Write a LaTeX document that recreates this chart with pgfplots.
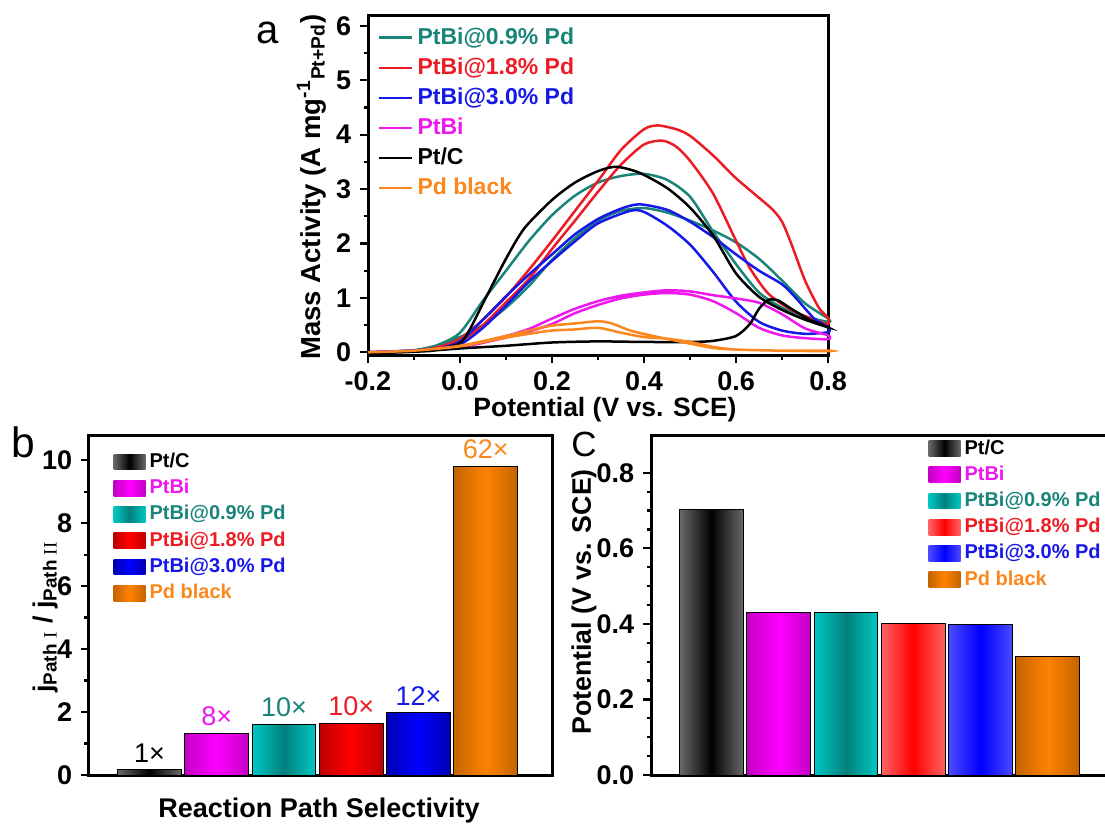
\documentclass[border=0pt]{standalone}
\usepackage{pgfplots}
\pgfplotsset{compat=1.18}
\usepackage{fontspec}
\setmainfont{Liberation Sans}
\newfontfamily\romannum{Liberation Serif}

% line colours (panel a, legend texts, bar labels)
\definecolor{cTeal}{RGB}{24,132,122}
\definecolor{cRed}{RGB}{236,28,36}
\definecolor{cBlue}{RGB}{22,24,230}
\definecolor{cMag}{RGB}{238,24,238}
\definecolor{cOrange}{RGB}{250,136,30}
% bar gradient colours
\definecolor{gGrayE}{RGB}{105,105,105}
\definecolor{gMagE}{RGB}{195,0,195}
\definecolor{gMagC}{RGB}{255,0,255}
\definecolor{gTealE}{RGB}{0,200,195}
\definecolor{gTealC}{RGB}{0,128,125}
\definecolor{gRedE}{RGB}{190,0,0}
\definecolor{gRedEc}{RGB}{255,100,100}
\definecolor{gRedC}{RGB}{255,0,0}
\definecolor{gBlueE}{RGB}{0,0,180}
\definecolor{gBlueEc}{RGB}{75,75,255}
\definecolor{gBlueC}{RGB}{0,0,255}
\definecolor{gOrE}{RGB}{195,100,0}
\definecolor{gOrC}{RGB}{255,130,0}

\newcommand{\tickfont}{\fontsize{10.8}{12}\selectfont\bfseries}
\newcommand{\labfont}{\fontsize{10.6}{12}\selectfont\bfseries}

\begin{document}
\begin{tikzpicture}
\pgfplotsset{
  panel/.style={
    scale only axis,
    axis line style={line width=1.2pt},
    every tick/.style={line width=0.9pt, black},
    tick align=outside,
    major tick length=3.2pt,
    minor tick length=1.8pt,
    tick pos=left,
    tick label style={font=\tickfont},
    /pgf/number format/assume math mode=true,
    clip=false,
  },
  barpanel/.style={
    panel,
    ybar, bar width=0.95, bar shift=0pt,
    xmin=0.1, xmax=7, xtick=\empty,
    legend image code/.code={\path[##1, draw=none] (0pt,-3.1pt) rectangle (12.8pt,3.2pt);},
    legend cell align=left,
    legend style={draw=none, fill=none, font=\fontsize{8}{9}\selectfont\bfseries,
      row sep=0pt, inner sep=0pt, nodes={inner sep=1.6pt}},
  },
}

% ---------------- panel a: mass activity CVs ----------------
\begin{axis}[panel, at={(147.2pt,-142pt)}, anchor=south west,
  width=184pt, height=136pt,
  xmin=-0.2, xmax=0.8, ymin=-0.05, ymax=6.2,
  xtick={-0.2,0,0.2,0.4,0.6,0.8}, ytick={0,1,...,6},
  minor x tick num=1, minor y tick num=1,
  xticklabel style={/pgf/number format/.cd, fixed, fixed zerofill, precision=1},
  legend cell align=left,
  legend image code/.code={\draw[#1, line width=1pt] (0pt,0pt) -- (13.2pt,0pt);},
  legend style={at={(0,1)}, anchor=north west, xshift=3.6pt, yshift=-3pt,
    draw=none, fill=none, font=\fontsize{9.2}{10}\selectfont\bfseries,
    row sep=0.25pt, inner sep=0pt, nodes={inner sep=1.8pt}},
  every axis plot/.append style={line width=1pt, smooth, tension=0.45},
]
\addplot[cTeal] coordinates {
 (-0.2,0.0) (-0.15,0.01) (-0.1,0.04) (-0.05,0.13) (0.0,0.36) (0.05,0.95) (0.1,1.5)
 (0.15,2.05) (0.2,2.52) (0.25,2.88) (0.3,3.12) (0.35,3.24) (0.4,3.28) (0.45,3.17)
 (0.5,2.86) (0.55,2.22) (0.6,1.62) (0.65,1.1) (0.7,0.82) (0.75,0.66) (0.8,0.56)
 (0.8,0.62) (0.75,0.9) (0.7,1.32) (0.65,1.72) (0.6,2.02) (0.55,2.24) (0.5,2.42)
 (0.45,2.57) (0.4,2.65) (0.35,2.6) (0.3,2.42) (0.25,2.1) (0.2,1.7) (0.15,1.22)
 (0.1,0.82) (0.05,0.5) (0.0,0.28) (-0.05,0.12) (-0.1,0.04) (-0.2,0.0)};
\addlegendentry{\textcolor{cTeal}{PtBi@0.9\% Pd}}
\addplot[cRed] coordinates {
 (-0.2,0.0) (-0.15,0.01) (-0.1,0.03) (-0.05,0.09) (0.0,0.25) (0.05,0.6) (0.1,1.02)
 (0.15,1.52) (0.2,2.05) (0.25,2.6) (0.3,3.15) (0.35,3.72) (0.4,4.1) (0.43,4.17)
 (0.47,4.1) (0.5,3.98) (0.55,3.62) (0.6,3.2) (0.65,2.84) (0.68,2.62) (0.7,2.4)
 (0.72,2.0) (0.75,1.32) (0.78,0.82) (0.8,0.63)
 (0.8,0.52) (0.77,0.6) (0.72,0.78) (0.67,1.08) (0.63,1.55) (0.6,2.05) (0.55,2.92)
 (0.5,3.52) (0.47,3.78) (0.44,3.89) (0.4,3.82) (0.35,3.45) (0.3,2.95) (0.25,2.42)
 (0.2,1.9) (0.15,1.35) (0.1,0.92) (0.05,0.5) (0.0,0.2) (-0.05,0.08) (-0.1,0.03) (-0.2,0.0)};
\addlegendentry{\textcolor{cRed}{PtBi@1.8\% Pd}}
\addplot[cBlue] coordinates {
 (-0.2,0.0) (-0.1,0.03) (-0.05,0.06) (0.0,0.2) (0.05,0.6) (0.1,1.03) (0.15,1.43)
 (0.2,1.8) (0.25,2.17) (0.3,2.45) (0.35,2.64) (0.39,2.72) (0.45,2.62) (0.5,2.4)
 (0.55,2.12) (0.6,1.8) (0.65,1.5) (0.7,1.25) (0.73,1.0) (0.77,0.62) (0.8,0.46)
 (0.8,0.37) (0.75,0.34) (0.7,0.4) (0.65,0.56) (0.6,0.93) (0.55,1.48) (0.5,1.98)
 (0.45,2.33) (0.4,2.58) (0.37,2.6) (0.3,2.37) (0.25,2.04) (0.2,1.68) (0.15,1.3)
 (0.1,0.86) (0.05,0.45) (0.0,0.14) (-0.05,0.05) (-0.1,0.02) (-0.2,0.0)};
\addlegendentry{\textcolor{cBlue}{PtBi@3.0\% Pd}}
\addplot[cMag] coordinates {
 (-0.2,0.0) (-0.1,0.03) (0.0,0.1) (0.1,0.3) (0.15,0.43) (0.2,0.62) (0.25,0.8)
 (0.3,0.94) (0.35,1.04) (0.4,1.1) (0.45,1.14) (0.5,1.12) (0.55,1.05) (0.6,0.99)
 (0.65,0.91) (0.7,0.7) (0.75,0.44) (0.8,0.31)
 (0.8,0.24) (0.75,0.26) (0.7,0.31) (0.65,0.45) (0.6,0.72) (0.55,0.94) (0.5,1.06)
 (0.45,1.09) (0.4,1.06) (0.35,0.99) (0.3,0.87) (0.25,0.72) (0.2,0.52) (0.15,0.38)
 (0.1,0.27) (0.0,0.09) (-0.1,0.02) (-0.2,0.0)};
\addlegendentry{\textcolor{cMag}{PtBi}}
\addplot[black] coordinates {
 (-0.2,-0.02) (-0.1,0.01) (-0.05,0.04) (0.0,0.17) (0.02,0.4) (0.05,0.9) (0.1,1.72)
 (0.14,2.28) (0.2,2.8) (0.25,3.12) (0.3,3.33) (0.34,3.41) (0.39,3.3) (0.45,3.02)
 (0.5,2.66) (0.55,2.15) (0.6,1.45) (0.65,1.02) (0.7,0.78) (0.75,0.6) (0.8,0.46)
 (0.76,0.6) (0.72,0.8) (0.69,0.96) (0.67,0.96) (0.65,0.8) (0.63,0.52) (0.6,0.3)
 (0.55,0.21) (0.5,0.19) (0.4,0.19) (0.3,0.2) (0.2,0.18) (0.1,0.12) (0.0,0.07)
 (-0.1,0.01) (-0.2,-0.02)};
\addlegendentry{\textcolor{black}{Pt/C}}
\addplot[cOrange] coordinates {
 (-0.2,0.0) (-0.1,0.03) (0.0,0.12) (0.1,0.3) (0.15,0.4) (0.2,0.49) (0.25,0.53)
 (0.3,0.57) (0.33,0.53) (0.37,0.4) (0.42,0.3) (0.5,0.16) (0.55,0.08) (0.6,0.05)
 (0.7,0.03) (0.8,0.03)
 (0.8,0.02) (0.7,0.03) (0.6,0.05) (0.55,0.1) (0.5,0.19) (0.45,0.25) (0.4,0.28)
 (0.35,0.36) (0.3,0.45) (0.25,0.42) (0.2,0.4) (0.15,0.34) (0.1,0.27) (0.0,0.11)
 (-0.1,0.03) (-0.2,0.0)};
\addlegendentry{\textcolor{cOrange}{Pd black}}
\end{axis}

% ---------------- panel b: reaction path selectivity ----------------
\begin{axis}[barpanel, at={(35.6pt,-310pt)}, anchor=south west,
  width=185.6pt, height=136pt,
  ymin=0, ymax=10.8, ytick={0,2,...,10}, minor y tick num=1,
  legend style={at={(0,1)}, anchor=north west, xshift=9.6pt, yshift=-5.4pt},
  nodes near coords style={font=\fontsize{10.8}{12}\selectfont, inner sep=2.8pt},
]
\addplot[left color=gGrayE, right color=gGrayE, middle color=black,
  nodes near coords={1×}, nodes near coords style={text=black}] coordinates {(1,0.16)};
\addlegendentry{\textcolor{black}{Pt/C}}
\addplot[left color=gMagE, right color=gMagE, middle color=gMagC,
  nodes near coords={8×}, nodes near coords style={text=cMag}] coordinates {(2,1.32)};
\addlegendentry{\textcolor{cMag}{PtBi}}
\addplot[left color=gTealE, right color=gTealE, middle color=gTealC,
  nodes near coords={10×}, nodes near coords style={text=cTeal}] coordinates {(3,1.62)};
\addlegendentry{\textcolor{cTeal}{PtBi@0.9\% Pd}}
\addplot[left color=gRedE, right color=gRedE, middle color=gRedC,
  nodes near coords={10×}, nodes near coords style={text=cRed}] coordinates {(4,1.63)};
\addlegendentry{\textcolor{cRed}{PtBi@1.8\% Pd}}
\addplot[left color=gBlueE, right color=gBlueE, middle color=gBlueC,
  nodes near coords={12×}, nodes near coords style={text=cBlue}] coordinates {(5,1.97)};
\addlegendentry{\textcolor{cBlue}{PtBi@3.0\% Pd}}
\addplot[left color=gOrE, right color=gOrE, middle color=gOrC,
  nodes near coords={62×}, nodes near coords style={text=cOrange}] coordinates {(6,9.8)};
\addlegendentry{\textcolor{cOrange}{Pd black}}
\end{axis}

% ---------------- panel c: onset potentials ----------------
\begin{axis}[barpanel, at={(260.4pt,-310pt)}, anchor=south west,
  width=185.6pt, height=136pt,
  ymin=0, ymax=0.9, ytick={0,0.2,...,0.8}, minor y tick num=3,
  yticklabel style={/pgf/number format/.cd, fixed, fixed zerofill, precision=1},
  legend style={at={(0.597,1)}, anchor=north west, xshift=0pt, yshift=0pt},
]
\addplot[left color=gGrayE, right color=gGrayE, middle color=black] coordinates {(1,0.703)};
\addlegendentry{\textcolor{black}{Pt/C}}
\addplot[left color=gMagE, right color=gMagE, middle color=gMagC] coordinates {(2,0.429)};
\addlegendentry{\textcolor{cMag}{PtBi}}
\addplot[left color=gTealE, right color=gTealE, middle color=gTealC] coordinates {(3,0.429)};
\addlegendentry{\textcolor{cTeal}{PtBi@0.9\% Pd}}
\addplot[left color=gRedEc, right color=gRedEc, middle color=gRedC] coordinates {(4,0.401)};
\addlegendentry{\textcolor{cRed}{PtBi@1.8\% Pd}}
\addplot[left color=gBlueEc, right color=gBlueEc, middle color=gBlueC] coordinates {(5,0.398)};
\addlegendentry{\textcolor{cBlue}{PtBi@3.0\% Pd}}
\addplot[left color=gOrE, right color=gOrE, middle color=gOrC] coordinates {(6,0.313)};
\addlegendentry{\textcolor{cOrange}{Pd black}}
\end{axis}

% axis titles and panel letters
\node[font=\labfont] at (242pt,-164pt) {Potential (V vs. SCE)};
\node[font=\fontsize{11}{12}\selectfont\bfseries, rotate=90] at (124.6pt,-74.8pt)
  {Mass Activity (A mg\textsuperscript{-1}\textsubscript{Pt+Pd})};
\node[font=\fontsize{16}{18}\selectfont] at (107.2pt,-13.2pt) {a};
\node[font=\fontsize{17}{18}\selectfont] at (9.2pt,-177pt) {b};
\node[font=\fontsize{14}{16}\selectfont] at (233.6pt,-177.6pt) {C};
\node[font=\fontsize{10.8}{12}\selectfont\bfseries] at (127.6pt,-324.2pt) {Reaction Path Selectivity};
\node[font=\fontsize{10.8}{12}\selectfont\bfseries, rotate=90] at (18.2pt,-246.8pt)
  {j\textsubscript{Path {\romannum\mdseries I}} / j\textsubscript{Path {\romannum\mdseries II}}};
\node[font=\fontsize{10.7}{12}\selectfont\bfseries, rotate=90] at (233.6pt,-240.8pt)
  {Potential (V vs. SCE)};

\pgfresetboundingbox
\useasboundingbox (0pt,0pt) rectangle (442pt,-330pt);
\end{tikzpicture}
\end{document}
